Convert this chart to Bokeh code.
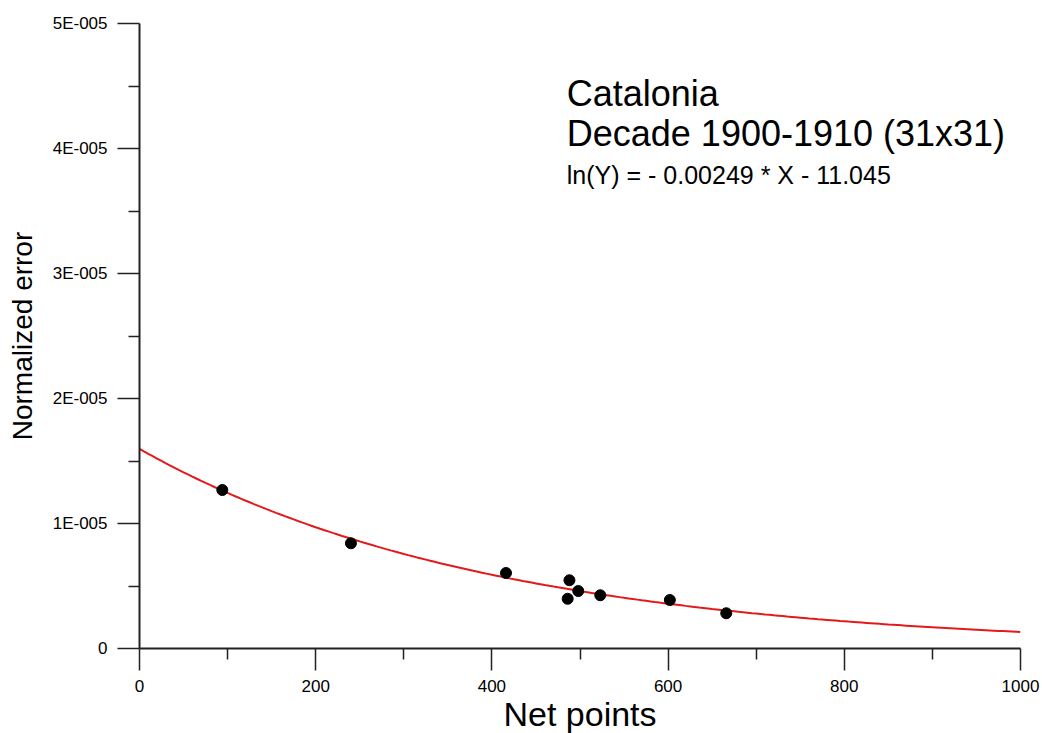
import numpy as np
from bokeh.plotting import figure
from bokeh.models import FixedTicker, CustomJSTickFormatter, Label, ColumnDataSource
from bokeh.embed import file_html
from bokeh.resources import INLINE

# Measured normalized error against number of net points
net_points = [94, 240, 416, 488, 498, 486, 523, 602, 666]
norm_error = [12.68e-6, 8.42e-6, 6.04e-6, 5.46e-6, 4.6e-6, 3.98e-6, 4.26e-6, 3.88e-6, 2.82e-6]

# Exponential fit: ln(Y) = a * X + b
fit_slope = -0.00249
fit_intercept = -11.045

x_ticks = [0, 200, 400, 600, 800, 1000]
x_tick_labels = ["0", "200", "400", "600", "800", "1000"]
x_minor = [100, 300, 500, 700, 900]
y_ticks = [0, 1e-5, 2e-5, 3e-5, 4e-5, 5e-5]
y_tick_labels = ["0", "1E-005", "2E-005", "3E-005", "4E-005", "5E-005"]
y_minor = [5e-6, 15e-6, 25e-6, 35e-6, 45e-6]

title_lines = ["Catalonia", "Decade 1900-1910 (31x31)"]
equation = "ln(Y) = - 0.00249 * X - 11.045"

FONT = "Liberation Sans"

p = figure(width=1042, height=733, frame_width=881, frame_height=625,
           min_border_left=139, min_border_right=22, min_border_top=23, min_border_bottom=85,
           x_range=(0, 1000), y_range=(0, 5e-5),
           output_backend="svg", toolbar_location=None)
p.outline_line_color = None
p.grid.visible = False
p.background_fill_color = "white"
p.border_fill_color = "white"

# fitted curve
xf = np.linspace(0, 1000, 201)
yf = np.exp(fit_slope * xf + fit_intercept)
p.line(xf, yf, line_color="#e31a1c", line_width=2)

# measurements
src = ColumnDataSource(dict(x=net_points, y=norm_error))
p.scatter("x", "y", source=src, size=11, fill_color="black", line_color="black")

# axes
for ax in (p.xaxis[0], p.yaxis[0]):
    ax.axis_line_width = 2
    ax.axis_line_color = "#222222"
    ax.major_tick_line_color = "#222222"
    ax.minor_tick_line_color = "#222222"
    ax.major_tick_line_width = 1.5
    ax.minor_tick_line_width = 1.5
    ax.major_tick_out = 22
    ax.major_tick_in = 0
    ax.minor_tick_out = 11
    ax.minor_tick_in = 0
    ax.major_label_text_font = FONT
    ax.major_label_text_font_size = "17px"
    ax.major_label_text_color = "black"
    ax.axis_label_text_font = FONT
    ax.axis_label_text_font_style = "normal"
    ax.axis_label_text_color = "black"

p.xaxis[0].ticker = FixedTicker(ticks=x_ticks, minor_ticks=x_minor)
p.xaxis[0].formatter = CustomJSTickFormatter(args=dict(labels=x_tick_labels),
                                             code="return labels[index];")
p.xaxis[0].major_label_standoff = 9
p.xaxis[0].axis_label = "Net points"
p.xaxis[0].axis_label_text_font_size = "34px"
p.xaxis[0].axis_label_standoff = 0

p.yaxis[0].ticker = FixedTicker(ticks=y_ticks, minor_ticks=y_minor)
p.yaxis[0].formatter = CustomJSTickFormatter(args=dict(labels=y_tick_labels),
                                             code="return labels[index];")
p.yaxis[0].major_label_standoff = 10
p.yaxis[0].axis_label = "Normalized error"
p.yaxis[0].axis_label_text_font_size = "28px"
p.yaxis[0].axis_label_standoff = 12

# annotation block
p.add_layout(Label(x=485, y=44.4e-6, text=title_lines[0], text_font=FONT,
                   text_font_size="36px", text_baseline="alphabetic", text_color="black"))
p.add_layout(Label(x=485, y=41.2e-6, text=title_lines[1], text_font=FONT,
                   text_font_size="36px", text_baseline="alphabetic", text_color="black"))
p.add_layout(Label(x=485, y=37.85e-6, text=equation, text_font=FONT,
                   text_font_size="25px", text_baseline="alphabetic", text_color="black"))

open("out.html", "w").write(file_html(p, INLINE))
